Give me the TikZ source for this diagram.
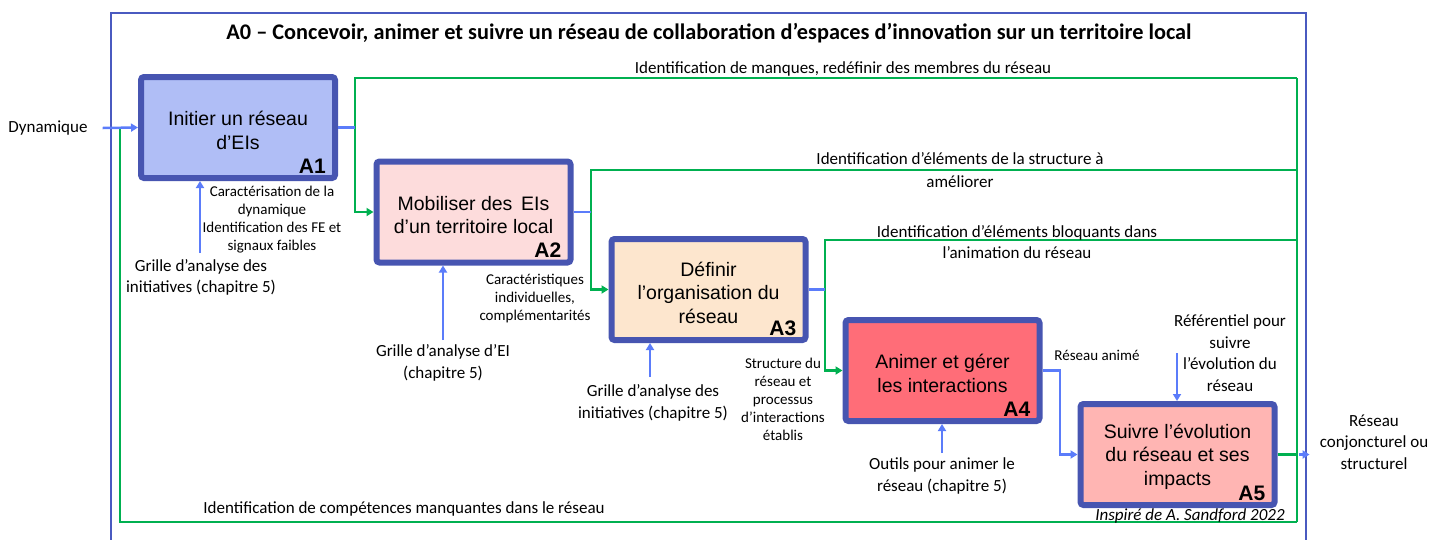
\documentclass[tikz,border=0pt]{standalone}
\usepackage{fontspec}
\setmainfont{Carlito}
\newfontfamily\arialf{Liberation Sans}
\usetikzlibrary{arrows.meta}
\definecolor{frameblue}{HTML}{4A5AC0}
\definecolor{boxborder}{HTML}{4755B1}
\definecolor{arrowblue}{HTML}{5B7CFA}
\definecolor{fbgreen}{HTML}{00B050}
\definecolor{fillA}{HTML}{B0BEF6}
\definecolor{fillB}{HTML}{FDDCDC}
\definecolor{fillC}{HTML}{FDE6CE}
\definecolor{fillD}{HTML}{FF6D78}
\definecolor{fillE}{HTML}{FFB5B3}
\begin{document}
\begin{tikzpicture}[x=1pt,y=-1pt,
  actbox/.style={draw=boxborder, line width=6pt, rounded corners=3pt,
    minimum width=194pt, minimum height=101pt, inner sep=0pt},
  boxtext/.style={align=center, inner sep=0pt, font=\arialf\fontsize{19.5}{23.5}\selectfont},
  acode/.style={font=\arialf\bfseries\fontsize{21}{21}\selectfont, anchor=base east, inner sep=0pt},
  lbl/.style={align=center, inner sep=0pt, font=\fontsize{17}{21.5}\selectfont},
  slbl/.style={align=center, inner sep=0pt, font=\fontsize{15}{18}\selectfont},
  bline/.style={draw=arrowblue, line width=2.5pt},
  barrow/.style={bline, -{Triangle[length=7pt,width=8pt]}},
  gline/.style={draw=fbgreen, line width=2.5pt},
  garrow/.style={gline, -{Triangle[length=7pt,width=8pt]}}]
\useasboundingbox (0,0) rectangle (1445,539);
\begin{scope}
\clip (0,0) rectangle (1445,539);
\draw[frameblue, line width=2pt] (111,13) rectangle (1306,560);
\end{scope}

\node[inner sep=0pt, font=\bfseries\fontsize{22.3}{26}\selectfont] (title) at (709,33)
  {A0 – Concevoir, animer et suivre un réseau de collaboration d’espaces d’innovation sur un territoire local};

% activity boxes
\node[actbox, fill=fillA] (A1) at (238,127.5) {};
\node[actbox, fill=fillB] (A2) at (473.5,212) {};
\node[actbox, fill=fillC] (A3) at (708.5,289.5) {};
\node[actbox, fill=fillD] (A4) at (942.5,370.5) {};
\node[actbox, fill=fillE] (A5) at (1177.5,454.5) {};
\node[boxtext] (t1) at ([yshift=-3pt]A1.center) {Initier un réseau\\d’EIs};
\node[boxtext] (t2) at ([yshift=-3pt]A2.center) {Mobiliser des\, EIs\\d’un territoire local};
\node[boxtext] (t3) at ([yshift=-3pt]A3.center) {Définir\\l’organisation du\\réseau};
\node[boxtext] (t4) at ([yshift=-3pt]A4.center) {Animer et gérer\\les interactions};
\node[boxtext] (t5) at ([yshift=-2pt]A5.center) {Suivre l’évolution\\du réseau et ses\\impacts};
\foreach \b in {A1,A2,A3,A4,A5}
  \node[acode] (c\b) at ([xshift=-12pt,yshift=8pt]\b.south east) {\b};

% junction coordinates
\coordinate (g0) at (1297,454.5);
\coordinate (gt) at (1297,78);
\coordinate (gb) at (1297,522);
\coordinate (j1) at (355,78);
\coordinate (j2) at (591,170);
\coordinate (j3) at (825,240);
\coordinate (jl) at (120,522);
\coordinate (gj2) at (1297,170);
\coordinate (gj3) at (1297,240);
\coordinate (b4) at (1060,370.5);

% green feedback loops
\draw[gline] (A5.east) -- (g0);
\draw[gline] (gt) -- (gb);
\draw[garrow] (gt) -- (j1) |- (A2.west);
\draw[garrow] (gj2) -- (j2) |- (A3.west);
\draw[garrow] (gj3) -- (j3) |- (A4.west);
\draw[gline] (gb) -- (jl) -- (jl |- A1.west);

% labels
\node[lbl] (dyn) at (48,128) {Dynamique};
\node[lbl] (fb1) at (843,69) {Identification de manques, redéfinir des membres du réseau};
\node[lbl, font=\fontsize{17}{23}\selectfont] (fb2) at (960,170) {Identification d’éléments de la structure à\\améliorer};
\node[lbl] (fb3) at (1017,242) {Identification d’éléments bloquants dans\\l’animation du réseau};
\node[lbl] (fb4) at (404,509) {Identification de compétences manquantes dans le réseau};

\node[lbl] (m1) at (201,277.5) {Grille d’analyse des\\initiatives (chapitre 5)};
\node[slbl] (o1) at (272,220) {Caractérisation de la\\dynamique\\Identification des FE et\\signaux faibles};
\node[lbl] (m2) at (443,363) {Grille d’analyse d’EI\\(chapitre 5)};
\node[slbl] (o2) at (535,299) {Caractéristiques\\individuelles,\\complémentarités};
\node[lbl] (m3) at (653,403) {Grille d’analyse des\\initiatives (chapitre 5)};
\node[slbl] (o3) at (783,399) {Structure du\\réseau et\\processus\\d’interactions\\établis};
\node[lbl] (m4) at (942,476) {Outils pour animer le\\réseau (chapitre 5)};
\node[slbl] (o4) at (1097,355) {Réseau animé};
\node[lbl] (m5) at (1230,353) {Référentiel pour\\suivre\\l’évolution du\\réseau};
\node[lbl] (o5) at (1374,442) {Réseau\\conjoncturel ou\\structurel};
\node[inner sep=0pt, font=\itshape\fontsize{17}{20}\selectfont] (src) at (1190,516) {Inspiré de A. Sandford 2022};

% blue flows
\draw[barrow] ([xshift=15pt]dyn.east) -- (A1.west);
\draw[bline] (A1.east) -- (A1.east -| j1);
\draw[bline] (A2.east) -- (A2.east -| j2);
\draw[bline] (A3.east) -- (A3.east -| j3);
\draw[barrow] (A4.east) -- (b4) |- (A5.west);
\draw[barrow] ([xshift=2pt]g0) -- ([xshift=-10pt]o5.west |- g0);

% mechanisms / controls
\coordinate (k1) at (200,253);
\coordinate (k2) at (443,340);
\coordinate (k3) at (650,377);
\coordinate (k4) at (942,453);
\coordinate (k5) at (1177,353);
\draw[barrow] (k1) -- (k1 |- A1.south);
\draw[barrow] (k2) -- (k2 |- A2.south);
\draw[barrow] (k3) -- (k3 |- A3.south);
\draw[barrow] (k4) -- (k4 |- A4.south);
\draw[barrow] (k5) -- (k5 |- A5.north);
\end{tikzpicture}
\end{document}
